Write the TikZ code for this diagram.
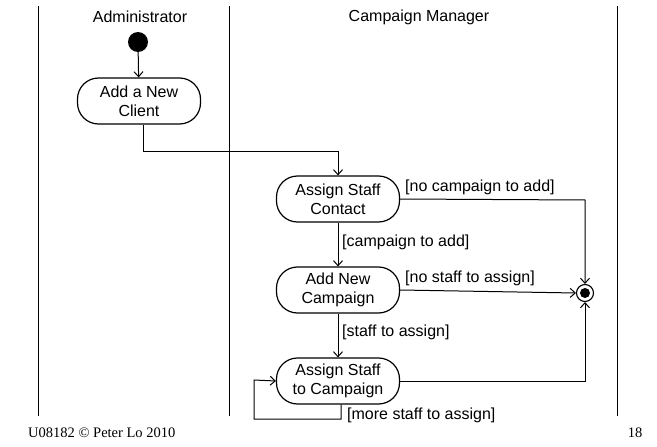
\documentclass[tikz,border=0pt]{standalone}
\usepackage{fontspec}
\setmainfont{Liberation Sans}
\newfontfamily\timesf{Liberation Serif}
\usetikzlibrary{arrows.meta,calc}
\begin{document}
\begin{tikzpicture}[x=1pt,y=-1pt,
  every node/.style={font=\fontsize{16}{19}\selectfont, inner sep=0pt},
  lane/.style={line width=0.9pt},
  act/.style={draw, line width=1.2pt, rounded corners=21pt, minimum width=123pt, minimum height=46pt, align=center},
  flow/.style={line width=1pt, -{Straight Barb[length=5pt,width=9pt,line width=1pt]}},
  guard/.style={anchor=west}
]
\useasboundingbox (0,0) rectangle (657,447);
% swimlanes
\coordinate (l1t) at (38,6);   \coordinate (l1b) at (38,416);
\coordinate (l2t) at (229,6);  \coordinate (l2b) at (229,416);
\coordinate (l3t) at (617,6);  \coordinate (l3b) at (617,416);
\draw[lane] (l1t) -- (l1b);
\draw[lane] (l2t) -- (l2b);
\draw[lane] (l3t) -- (l3b);
\node (hadmin) at (140,17) {Administrator};
\node (hcm) at (419,17) {Campaign Manager};
% nodes
\node[fill, circle, minimum size=20pt] (start) at (138,42) {};
\node[act] (client) at (139,101) {Add a New\\Client};
\node[act] (contact) at (338,199) {Assign Staff\\Contact};
\node[act] (campaign) at (338,290) {Add New\\Campaign};
\node[act] (assign) at (338,381) {Assign Staff\\to Campaign};
\node[draw, circle, line width=1.1pt, minimum size=17pt] (final) at (585,293) {};
\node[fill, circle, minimum size=10pt] (finalin) at (final) {};
% flows
\draw[flow] (start) -- (client);
\coordinate (c1) at ($(client.south)+(4,0)$);
\coordinate (c2) at (143,151);
\coordinate (c3) at (338,151);
\draw[flow] (c1) -- (c2) -- (c3) -- (contact.north);
\coordinate (k1) at (585,200);
\draw[flow] (contact.east) -- (k1) -- (final.north);
\draw[flow] (contact) -- (campaign);
\draw[flow] (campaign.east) -- (final.west);
\draw[flow] (campaign) -- (assign);
\coordinate (a1) at (585,381);
\draw[flow] (assign.east) -- (a1) -- (final.south);
\coordinate (s0) at ($(assign.south)+(3,0)$);
\coordinate (s1) at (341,419);
\coordinate (s2) at (254,419);
\coordinate (s3) at (254,380);
\draw[flow] (s0) -- (s1) -- (s2) -- (s3) -- (assign.west);
% guards
\node[guard] (g1) at (405,187) {[no campaign to add]};
\node[guard] (g2) at (342,242) {[campaign to add]};
\node[guard] (g3) at (405,278) {[no staff to assign]};
\node[guard] (g4) at (342,332) {[staff to assign]};
\node[guard] (g5) at (347,415) {[more staff to assign]};
% footer
\node[font=\timesf\fontsize{14.5}{16}\selectfont, anchor=west] (foot) at (28,433) {U08182 © Peter Lo 2010};
\node[font=\timesf\fontsize{14.5}{16}\selectfont] (page) at (635,433) {18};
\end{tikzpicture}
\end{document}
